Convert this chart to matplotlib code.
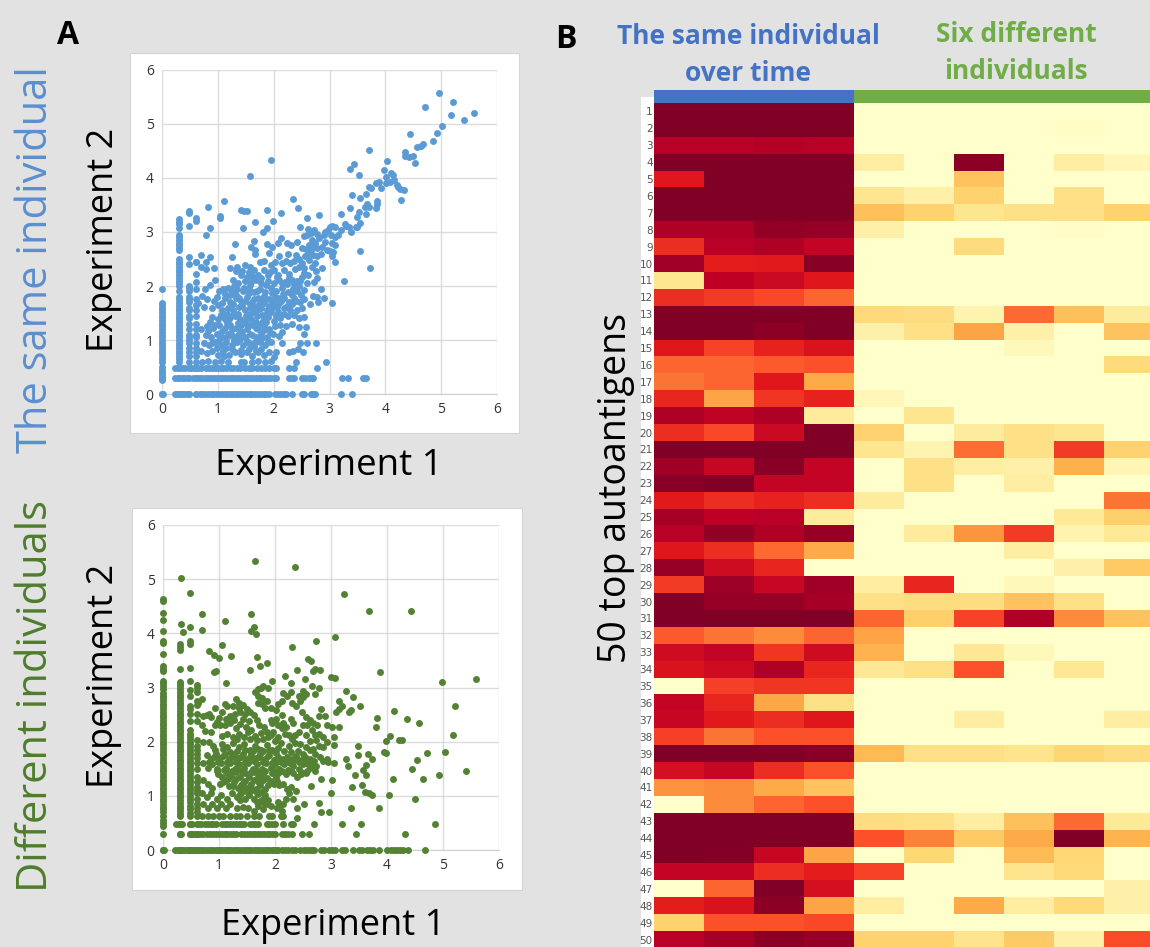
import numpy as np
import matplotlib
matplotlib.use('Agg')
import matplotlib.pyplot as plt
from matplotlib.patches import Rectangle

W, H = 1150, 947
plt.rcParams['font.family'] = ['Open Sans', 'DejaVu Sans']

# top scatter, same individual: columns and rows where the points pile up
same_x0_y = [0, 0.25, 0.29, 0.33, 0.37, 0.41, 0.45, 0.5, 0.6, 0.65, 0.7, 0.75, 0.8, 0.85, 0.9, 0.95, 1.0, 1.05, 1.1,
             1.15, 1.2, 1.25, 1.3, 1.35, 1.4, 1.45, 1.5, 1.55, 1.6, 1.65, 1.69, 1.94]
same_x30_y = [0, 0.3, 0.48, 0.6, 0.65, 0.7, 0.75, 0.8, 0.85, 0.9, 0.95, 1.0, 1.06, 1.1, 1.15, 1.2, 1.25, 1.3, 1.35,
              1.4, 1.45, 1.5, 1.55, 1.6, 1.65, 1.7, 1.75, 1.8, 1.9, 2.0, 2.05, 2.1, 2.15, 2.2, 2.25, 2.3, 2.35, 2.4,
              2.45, 2.5, 2.66, 2.7, 2.75, 2.8, 2.85, 2.9, 2.94, 3.08, 3.14, 3.19, 3.24]
same_x48_y = [0, 0.3, 0.48, 0.6, 0.7, 0.78, 0.85, 0.95, 1.0, 1.05, 1.1, 1.2, 1.3, 1.4, 1.45, 1.55, 1.6, 1.7, 1.75,
              1.8, 1.9, 1.97, 2.0, 2.4, 2.53, 3.12, 3.35, 3.38]
same_x60_y = [0, 0.3, 0.48, 0.6, 0.7, 0.78, 0.85, 0.95, 1.05, 1.1, 1.2, 1.3, 1.45, 1.55, 1.65, 1.75, 1.95, 2.07,
              2.22, 2.45, 3.2, 3.26]
same_y0_x = [0, 0.02, 0.23, 0.27, 0.31, 0.35, 0.4, 0.44, 0.48, 0.6, 0.68, 0.72, 0.77, 0.82, 0.87, 0.92, 0.97, 1.02,
             1.07, 1.12, 1.17, 1.22, 1.27, 1.32, 1.37, 1.42, 1.47, 1.52, 1.57, 1.62, 1.67, 1.72, 1.77, 1.82, 1.87,
             1.92, 2.03, 2.08, 2.13, 2.18, 2.22, 2.32, 2.5, 2.54, 2.66, 2.7, 2.74, 3.2, 3.4]
same_y30_x = [0.23, 0.28, 0.35, 0.4, 0.45, 0.55, 0.62, 0.68, 0.73, 0.78, 0.83, 0.88, 0.93, 0.98, 1.03, 1.08, 1.13,
              1.18, 1.23, 1.28, 1.33, 1.38, 1.43, 1.48, 1.53, 1.58, 1.63, 1.68, 1.73, 1.78, 1.83, 1.88, 1.93, 2.0,
              2.05, 2.27, 2.33, 2.37, 2.5, 2.56, 2.63, 2.68, 2.71, 3.22, 3.34, 3.6, 3.65]
same_y48_x = [0.23, 0.28, 0.36, 0.42, 0.52, 0.58, 0.65, 0.7, 0.78, 0.85, 0.9, 0.95, 1.0, 1.05, 1.1, 1.15, 1.22, 1.27,
              1.35, 1.4, 1.48, 1.55, 1.62, 1.7, 1.78, 1.85, 1.92, 2.0, 2.05, 2.28, 2.36, 2.77]

# top scatter, the rest of the points
same_other = [(4.97, 5.58), (5.22, 5.41), (4.71, 5.31), (5.59, 5.21), (5.18, 5.17), (5.41, 5.08), (5.02, 4.96),
              (4.93, 4.84), (4.45, 4.82), (4.85, 4.68), (4.68, 4.63), (4.64, 4.6), (4.57, 4.57), (4.35, 4.49),
              (3.71, 4.52), (4.5, 4.41), (4.36, 4.4), (4.42, 4.38), (4.53, 4.27), (4.03, 4.32), (1.95, 4.34),
              (3.43, 4.25), (3.37, 4.17), (3.98, 4.15), (3.52, 4.05), (1.57, 4.03), (4.11, 4.1), (4.13, 4.06),
              (4.02, 4.01), (4.16, 3.96), (4.08, 3.93), (4.02, 3.9), (3.93, 3.81), (3.84, 3.9), (3.88, 3.92),
              (3.7, 3.84), (3.74, 3.82), (4.2, 3.87), (4.23, 3.83), (4.33, 3.77), (4.28, 3.59), (4.26, 3.8),
              (1.11, 3.57), (0.82, 3.47), (2.35, 3.61), (2.43, 3.44), (1.41, 3.41), (1.47, 3.39), (1.52, 3.38),
              (1.88, 3.4), (2.13, 3.36), (1.04, 3.3), (1.03, 3.25), (1.66, 3.18), (1.98, 3.2), (2.6, 3.25),
              (2.81, 3.31), (3.21, 3.33), (0.86, 3.07), (0.78, 2.94), (1.45, 3.08), (1.88, 3.07), (1.8, 3.0),
              (2.47, 3.09), (1.31, 2.77), (1.65, 2.83), (1.6, 2.72), (1.67, 2.67), (1.66, 2.59), (1.88, 2.77),
              (1.97, 2.72), (1.92, 2.62), (2.07, 2.8), (2.13, 2.89), (2.23, 2.8), (2.31, 2.76), (2.41, 2.81),
              (2.09, 2.56), (2.26, 2.6), (0.7, 2.57), (0.86, 2.53), (1.25, 2.53), (0.6, 2.45), (0.79, 2.44),
              (0.7, 2.35), (0.78, 2.31), (0.94, 2.34), (1.21, 2.34), (0.95, 2.11), (0.86, 2.02), (0.77, 1.95),
              (2.62, 3.05), (2.72, 3.04), (2.77, 2.97), (2.92, 3.0), (3.0, 3.1), (3.05, 3.12), (3.1, 3.1),
              (3.2, 3.03), (3.27, 3.15), (3.3, 3.12), (3.35, 3.1), (3.39, 3.0), (3.47, 3.1), (3.55, 3.17),
              (3.5, 3.1), (3.5, 3.28), (3.52, 3.37), (3.37, 3.45), (3.41, 3.68), (3.55, 3.63), (3.65, 3.7),
              (3.63, 3.47), (3.68, 3.52), (3.7, 3.47), (3.66, 3.33), (3.83, 3.44), (3.85, 3.52), (3.85, 3.58),
              (3.55, 2.65), (3.72, 2.34), (3.26, 2.09), (3.05, 1.69), (2.9, 1.78), (3.1, 2.45), (3.05, 2.55),
              (3.0, 2.65), (3.07, 2.63), (2.95, 2.67), (2.85, 2.6), (2.9, 2.95), (3.05, 2.8), (3.1, 2.9),
              (3.15, 2.95), (3.1, 2.75), (3.03, 2.95), (2.87, 2.33), (2.55, 2.92), (2.6, 2.95), (2.66, 2.98),
              (2.5, 2.7), (2.58, 2.68), (2.66, 2.66), (2.72, 2.74), (2.78, 2.7), (2.56, 2.55), (2.62, 2.6),
              (2.7, 2.58), (2.77, 2.55), (2.45, 2.5), (2.37, 2.47), (2.3, 2.42), (2.22, 2.47), (2.15, 2.43),
              (2.02, 2.45), (1.95, 2.38), (1.83, 2.47), (1.75, 2.44), (1.58, 2.35), (1.48, 2.38), (1.35, 2.36),
              (1.32, 2.28), (1.42, 2.2), (1.55, 2.25), (1.65, 2.3), (1.72, 2.2), (1.82, 2.3), (1.9, 2.2),
              (2.0, 2.3), (2.08, 2.2), (2.18, 2.3), (2.28, 2.22), (2.38, 2.32), (2.46, 2.35), (2.55, 2.33),
              (2.68, 2.35), (2.75, 2.27), (2.62, 2.2), (2.5, 2.17), (2.42, 2.1), (2.33, 2.12), (2.2, 2.08),
              (2.1, 2.12), (2.0, 2.05), (1.9, 2.1), (1.78, 2.05), (1.68, 2.12), (1.58, 2.02), (1.48, 2.1),
              (1.37, 2.05), (1.28, 2.12), (1.18, 1.97), (1.1, 1.95), (1.02, 1.9), (1.25, 1.9), (1.35, 1.95),
              (1.45, 1.9), (1.55, 1.95), (1.65, 1.88), (1.75, 1.95), (1.85, 1.88), (1.95, 1.97), (2.05, 1.9),
              (2.15, 1.97), (2.25, 1.88), (2.35, 1.95), (2.45, 2.0), (2.55, 1.93), (2.72, 2.08), (2.77, 2.15),
              (2.85, 1.95), (2.7, 1.82), (2.78, 1.8), (2.8, 1.7), (2.65, 1.67), (2.55, 1.75), (2.47, 1.7),
              (2.37, 1.78), (2.28, 1.7), (2.18, 1.78), (2.1, 1.68), (2.03, 1.8), (1.92, 1.75), (1.83, 1.68),
              (1.72, 1.78), (1.62, 1.7), (1.52, 1.8), (1.42, 1.72), (1.32, 1.78), (1.22, 1.7), (1.12, 1.78),
              (1.0, 1.65), (0.9, 1.6), (0.8, 1.75), (0.72, 1.82), (0.75, 1.62), (0.65, 1.68), (1.08, 1.55),
              (1.18, 1.6), (1.28, 1.55), (1.38, 1.62), (1.48, 1.55), (1.58, 1.6), (1.68, 1.53), (1.78, 1.6),
              (1.88, 1.55), (1.98, 1.62), (2.08, 1.52), (2.18, 1.6), (2.3, 1.55), (2.42, 1.55), (2.45, 1.4),
              (2.55, 1.42), (2.26, 1.45), (2.12, 1.4), (2.0, 1.35), (1.9, 1.42), (1.8, 1.36), (1.7, 1.44),
              (1.6, 1.38), (1.5, 1.45), (1.4, 1.38), (1.3, 1.45), (1.2, 1.38), (1.1, 1.45), (1.0, 1.38),
              (0.9, 1.42), (0.8, 1.25), (0.92, 1.22), (1.02, 1.28), (1.12, 1.22), (1.22, 1.28), (1.32, 1.22),
              (1.42, 1.27), (1.52, 1.2), (1.62, 1.28), (1.72, 1.2), (1.82, 1.27), (1.92, 1.2), (2.02, 1.25),
              (2.12, 1.28), (2.22, 1.25), (2.32, 1.3), (2.46, 1.24), (2.58, 1.24), (2.54, 1.11), (2.1, 1.08),
              (2.15, 1.14), (1.98, 1.12), (1.88, 1.05), (1.78, 1.12), (1.68, 1.05), (1.58, 1.12), (1.48, 1.05),
              (1.38, 1.12), (1.28, 1.05), (1.18, 1.12), (1.08, 1.05), (0.98, 1.12), (0.88, 1.05), (0.78, 1.1),
              (0.7, 1.2), (0.75, 0.95), (0.85, 0.9), (0.95, 0.97), (1.05, 0.9), (1.15, 0.96), (1.25, 0.9),
              (1.35, 0.97), (1.45, 0.9), (1.55, 0.95), (1.65, 0.88), (1.75, 0.96), (1.85, 0.9), (1.95, 0.97),
              (2.15, 0.95), (2.47, 0.95), (2.6, 0.95), (2.75, 0.94), (2.43, 0.84), (2.35, 0.8), (2.27, 0.77),
              (2.52, 0.77), (0.7, 0.8), (0.8, 0.75), (0.9, 0.8), (1.0, 0.72), (1.1, 0.8), (1.2, 0.72), (1.3, 0.78),
              (1.42, 0.74), (1.52, 0.78), (1.62, 0.7), (1.72, 0.78), (1.82, 0.72), (1.92, 0.78), (2.05, 0.77),
              (2.4, 0.6), (2.94, 0.6), (0.72, 0.6), (0.82, 0.62), (0.95, 0.6), (1.05, 0.62), (1.18, 0.6),
              (1.42, 0.6), (1.47, 0.6), (1.62, 0.6), (1.72, 0.62), (1.85, 0.6), (1.95, 0.62), (2.0, 0.68)]

# top scatter, the thick middle of the cloud
same_dense = [(1.43, 1.63), (1.57, 1.48), (1.64, 1.76), (1.49, 1.31), (1.73, 1.57), (1.36, 1.49), (1.81, 1.73),
              (1.27, 1.66), (1.55, 1.87), (1.69, 1.33), (1.84, 1.47), (1.41, 1.17), (1.61, 1.09), (1.76, 1.29),
              (1.33, 1.84), (1.46, 1.96), (1.59, 2.08), (1.71, 1.91), (1.87, 2.02), (1.97, 1.87), (2.07, 1.77),
              (2.16, 1.86), (2.24, 2.03), (2.33, 1.83), (2.41, 1.91), (2.49, 1.83), (1.24, 1.44), (1.16, 1.31),
              (1.07, 1.17), (1.14, 1.03), (1.29, 0.98), (1.39, 1.01), (1.53, 0.99), (1.66, 0.97), (1.79, 1.03),
              (1.89, 0.96), (1.93, 1.14), (1.83, 1.19), (1.68, 1.22), (1.54, 1.27), (1.37, 1.31), (1.26, 1.2),
              (1.17, 1.49), (1.08, 1.68), (1.21, 1.83), (1.38, 1.77), (1.49, 1.72), (1.58, 1.66), (1.66, 1.61),
              (1.74, 1.67), (1.83, 1.81), (1.91, 1.63), (1.98, 1.71), (2.06, 1.62), (2.14, 1.72), (2.23, 1.63),
              (2.33, 1.66), (2.4, 1.72), (2.06, 2.17), (2.15, 2.06), (2.28, 2.14), (2.37, 2.03), (2.47, 2.09),
              (1.94, 2.26), (1.77, 2.14), (1.62, 2.18), (1.52, 2.16), (1.44, 2.28), (1.29, 2.0), (1.12, 1.86),
              (0.99, 1.79), (0.93, 1.72), (1.05, 1.47), (0.95, 1.27), (0.86, 1.34), (0.83, 1.16), (1.02, 1.0),
              (1.13, 1.38), (1.24, 1.11), (1.34, 1.08), (1.44, 1.14), (1.51, 1.37), (1.63, 1.51), (1.79, 1.46),
              (1.86, 1.33), (1.95, 1.52), (2.04, 1.44), (2.18, 1.49), (2.37, 1.46), (2.51, 1.6), (2.6, 2.05),
              (2.55, 2.24), (2.64, 2.48), (2.74, 2.42), (2.5, 2.43), (2.4, 2.58), (2.86, 2.73), (2.92, 2.82),
              (2.82, 2.88), (2.97, 3.03), (2.68, 2.85), (2.74, 2.8), (2.63, 2.75), (1.42, 0.82), (1.56, 0.84),
              (1.68, 0.79), (1.78, 0.83), (1.25, 0.83), (1.14, 0.86), (0.98, 0.85), (0.9, 0.94), (1.11, 0.71)]

# bottom scatter, different individuals
diff_x0_y = [0, 0.3, 0.45, 0.5, 0.56, 0.62, 0.7, 0.75, 0.8, 0.85, 0.9, 0.95, 1.0, 1.05, 1.1, 1.15, 1.2, 1.25, 1.3,
             1.35, 1.4, 1.45, 1.5, 1.55, 1.6, 1.65, 1.7, 1.75, 1.8, 1.85, 1.9, 1.95, 2.0, 2.05, 2.1, 2.15, 2.2, 2.25,
             2.3, 2.35, 2.4, 2.45, 2.5, 2.55, 2.6, 2.65, 2.7, 2.75, 2.8, 2.85, 2.9, 2.97, 3.03, 3.08, 3.12, 3.3, 3.35,
             3.4, 3.62, 3.83, 3.86, 4.05, 4.25, 4.38, 4.6, 4.64]
diff_x30_y = [0, 0.3, 0.48, 0.62, 0.67, 0.72, 0.77, 0.82, 0.87, 0.92, 0.97, 1.02, 1.07, 1.12, 1.17, 1.22, 1.27, 1.32,
              1.37, 1.42, 1.47, 1.52, 1.57, 1.62, 1.67, 1.72, 1.77, 1.82, 1.87, 1.92, 1.97, 2.02, 2.07, 2.12, 2.17,
              2.22, 2.27, 2.32, 2.37, 2.42, 2.47, 2.52, 2.57, 2.62, 2.67, 2.72, 2.77, 2.82, 2.87, 2.92, 2.97, 3.02,
              3.06, 3.1, 3.35, 3.7, 3.75, 3.81]
diff_x48_y = [0, 0.3, 0.48, 0.62, 0.68, 0.75, 0.82, 0.88, 0.95, 1.0, 1.05, 1.1, 1.15, 1.2, 1.25, 1.3, 1.35, 1.4, 1.45,
              1.5, 1.55, 1.6, 1.65, 1.7, 1.75, 1.8, 1.85, 1.9, 1.95, 2.0, 2.05, 2.1, 2.15, 2.22, 2.38, 2.52, 2.6, 2.65,
              2.85, 2.95, 3.12, 3.36]
diff_x60_y = [0, 0.3, 0.48, 0.62, 0.7, 0.78, 0.85, 0.95, 1.05, 1.1, 1.17, 1.25, 1.35, 1.5, 1.6, 1.7, 1.78, 1.85, 1.92,
              2.03, 2.38, 2.52, 2.68, 2.75, 2.92, 3.0, 3.05]
diff_y0_x = [0, 0.02, 0.22, 0.26, 0.3, 0.34, 0.38, 0.42, 0.46, 0.5, 0.54, 0.58, 0.62, 0.66, 0.7, 0.74, 0.78, 0.82, 0.86,
             0.9, 0.94, 0.98, 1.02, 1.06, 1.1, 1.14, 1.18, 1.22, 1.26, 1.3, 1.34, 1.38, 1.42, 1.46, 1.5, 1.54, 1.58, 1.62,
             1.66, 1.7, 1.74, 1.78, 1.82, 1.86, 1.9, 1.94, 1.98, 2.02, 2.06, 2.12, 2.18, 2.24, 2.3, 2.36, 2.44, 2.52, 2.58,
             2.62, 2.66, 2.7, 2.82, 2.88, 2.96, 3.02, 3.07, 3.2, 3.25, 3.4, 3.5, 3.55, 3.65, 3.7, 3.75, 3.85, 4.0, 4.07, 4.12,
             4.18, 4.24, 4.28, 4.37, 4.67]
diff_y30_x = [0.3, 0.33, 0.48, 0.52, 0.56, 0.6, 0.66, 0.72, 0.78, 0.84, 0.9, 0.95, 1.0, 1.05, 1.1, 1.15, 1.2, 1.25, 1.3,
              1.4, 1.45, 1.5, 1.55, 1.6, 1.65, 1.7, 1.75, 1.8, 1.85, 1.9, 1.95, 2.0, 2.12, 2.18, 2.24, 2.3]
diff_y48_x = [0.23, 0.28, 0.34, 0.48, 0.52, 0.62, 0.68, 0.75, 0.8, 0.85, 0.9, 0.95, 1.05, 1.1, 1.15, 1.2, 1.25, 1.3,
              1.35, 1.4, 1.45, 1.55, 1.6, 1.65, 1.7, 1.85, 1.9, 1.95, 2.0, 2.15, 2.28, 2.33]
diff_other = [(1.65, 5.33), (2.36, 5.22), (0.32, 5.02), (0.48, 4.75), (3.24, 4.72), (3.68, 4.41), (4.42, 4.42),
              (0.7, 4.35), (1.58, 4.36), (1.11, 4.23), (0.32, 4.17), (0.48, 4.11), (1.62, 4.11), (0.36, 4.02),
              (0.7, 4.06), (1.57, 4.04), (1.66, 3.98), (3.07, 3.94), (2.74, 3.85), (0.48, 3.85), (0.48, 3.81),
              (1.05, 3.79), (2.3, 3.75), (0.83, 3.68), (0.91, 3.6), (1.0, 3.54), (1.21, 3.59), (1.67, 3.56),
              (2.59, 3.52), (2.64, 3.49), (1.85, 3.46), (1.73, 3.39), (1.56, 3.32), (2.71, 3.35), (2.81, 3.33),
              (2.68, 3.3), (2.4, 3.33), (0.91, 3.28), (0.95, 3.3), (3.88, 3.28), (2.18, 3.22), (3.0, 3.2),
              (3.08, 3.18), (4.98, 3.1), (5.59, 3.15), (1.12, 3.09), (1.94, 3.12), (2.54, 3.15), (2.29, 3.08),
              (2.66, 3.03), (2.78, 3.0), (3.26, 2.93), (2.5, 2.93), (2.71, 2.88), (3.4, 2.82), (3.15, 2.75),
              (3.51, 2.66), (5.21, 2.66), (3.2, 2.65), (3.14, 2.61), (3.36, 2.58), (3.32, 2.55), (3.09, 2.55),
              (4.13, 2.56), (3.83, 2.44), (4.35, 2.42), (4.57, 2.35), (3.81, 2.28), (3.15, 2.28), (3.02, 2.27),
              (5.18, 2.12), (4.05, 2.1), (3.05, 2.09), (3.98, 2.02), (4.22, 2.03), (4.26, 2.03), (3.05, 1.94),
              (3.48, 1.92), (3.94, 1.81), (3.99, 1.79), (4.71, 1.8), (5.03, 1.81), (3.49, 1.76), (3.66, 1.78),
              (3.73, 1.68), (4.53, 1.67), (3.26, 1.68), (3.3, 1.56), (3.63, 1.57), (3.58, 1.48), (4.45, 1.49),
              (5.41, 1.46), (4.93, 1.39), (3.42, 1.38), (3.62, 1.39), (4.65, 1.31), (4.11, 1.31), (3.02, 1.3),
              (2.83, 1.31), (3.38, 1.17), (3.55, 1.2), (2.65, 1.19), (3.61, 1.07), (3.67, 1.05), (3.74, 1.01),
              (4.04, 1.01), (3.0, 1.05), (4.5, 0.94), (2.79, 0.86), (2.51, 0.85), (3.35, 0.78), (3.85, 0.78),
              (2.83, 0.7), (2.96, 0.7), (2.4, 0.6), (3.2, 0.48), (3.54, 0.48), (2.69, 0.48), (4.85, 0.48),
              (3.44, 0.3), (4.32, 0.3), (2.48, 0.3), (2.6, 0.3), (2.38, 1.09), (2.32, 0.95), (2.25, 1.05),
              (2.4, 0.78), (2.15, 0.85), (2.08, 0.8), (2.12, 0.72), (2.03, 0.78), (2.1, 0.62), (2.14, 0.62),
              (1.9, 0.62), (1.95, 0.62), (1.7, 2.97), (1.75, 3.0), (1.78, 3.02), (1.88, 3.0), (1.65, 2.92),
              (1.7, 2.85), (1.77, 2.8), (1.85, 2.75), (1.7, 2.72), (1.76, 2.7), (1.82, 2.63), (1.92, 2.62),
              (2.02, 2.58), (2.05, 2.7), (2.12, 2.75), (2.15, 2.9), (2.22, 2.85), (2.28, 2.92), (2.42, 2.85),
              (2.45, 2.75), (2.38, 2.65), (2.3, 2.72), (2.5, 2.82), (2.55, 2.88), (2.48, 2.55), (2.55, 2.45),
              (2.63, 2.4), (2.58, 2.3), (2.66, 2.22), (2.75, 2.3), (2.78, 2.15), (2.85, 2.08), (2.73, 2.03),
              (2.62, 1.85), (2.85, 1.9), (2.92, 2.3), (2.9, 2.48), (2.83, 2.6), (2.78, 2.48), (2.92, 2.0),
              (1.3, 2.78), (1.36, 2.72), (1.43, 2.68), (1.5, 2.6), (1.55, 2.55), (1.25, 2.65), (1.1, 2.7),
              (1.15, 2.65), (1.05, 2.55), (1.2, 2.48), (1.28, 2.52), (1.38, 2.55), (1.62, 2.5), (1.67, 2.4),
              (0.92, 2.63), (0.78, 2.5), (0.72, 2.47), (0.82, 2.52), (0.85, 2.45), (0.7, 2.78), (0.62, 2.72),
              (0.7, 2.3), (0.75, 2.2), (0.85, 2.18), (0.93, 2.3), (0.97, 2.37), (1.02, 2.3), (1.1, 2.3),
              (1.2, 2.35), (1.3, 2.25), (1.38, 2.32), (1.48, 2.28), (1.58, 2.22), (1.72, 2.3), (1.8, 2.28),
              (1.85, 2.17), (1.95, 2.35), (2.05, 2.3), (2.12, 2.25), (2.2, 2.28), (2.25, 2.12), (2.35, 2.13),
              (2.42, 2.18), (2.55, 2.12), (1.05, 2.1), (1.15, 2.15), (1.25, 2.08), (1.35, 2.15), (1.45, 2.08),
              (1.55, 2.05), (1.65, 2.1), (1.78, 2.05), (1.92, 2.12), (2.0, 2.02), (2.1, 1.97), (2.25, 1.92),
              (2.35, 1.97), (2.45, 1.95), (2.55, 1.9), (0.72, 2.0), (0.82, 2.0), (0.9, 1.92), (1.05, 1.95),
              (1.15, 1.9), (1.25, 1.98), (1.35, 1.9), (1.45, 1.95), (1.55, 1.85), (1.65, 1.92), (1.75, 1.85),
              (1.85, 1.93), (1.95, 1.85), (2.05, 1.88), (0.78, 1.75), (0.86, 1.68), (0.94, 1.77), (1.02, 1.7),
              (1.1, 1.78), (1.18, 1.68), (1.26, 1.77), (1.34, 1.7), (1.42, 1.78), (1.5, 1.68), (1.58, 1.77),
              (1.66, 1.7), (1.74, 1.78), (1.82, 1.68), (1.9, 1.76), (1.98, 1.66), (2.06, 1.72), (2.14, 1.68),
              (2.22, 1.72), (2.3, 1.68), (2.38, 1.73), (2.46, 1.67), (2.54, 1.72), (2.62, 1.68), (2.7, 1.65),
              (2.85, 1.65), (2.95, 1.62), (3.05, 1.61), (0.72, 1.6), (0.8, 1.52), (0.88, 1.58), (0.96, 1.5),
              (1.04, 1.6), (1.12, 1.52), (1.2, 1.6), (1.28, 1.5), (1.36, 1.58), (1.44, 1.52), (1.52, 1.6),
              (1.6, 1.5), (1.68, 1.58), (1.76, 1.5), (1.84, 1.6), (1.92, 1.52), (2.0, 1.58), (2.08, 1.5),
              (2.16, 1.58), (2.24, 1.48), (2.32, 1.55), (2.42, 1.5), (2.5, 1.58), (2.58, 1.46), (2.66, 1.55),
              (2.74, 1.56), (0.98, 1.4), (1.06, 1.35), (1.14, 1.42), (1.22, 1.36), (1.3, 1.44), (1.38, 1.34),
              (1.46, 1.42), (1.54, 1.35), (1.62, 1.44), (1.7, 1.34), (1.78, 1.4), (1.86, 1.33), (1.94, 1.42),
              (2.02, 1.35), (2.2, 1.4), (2.32, 1.42), (2.4, 1.35), (0.72, 1.3), (0.8, 1.22), (0.88, 1.15),
              (1.02, 1.22), (1.1, 1.28), (1.18, 1.18), (1.26, 1.26), (1.34, 1.15), (1.42, 1.24), (1.5, 1.14),
              (1.58, 1.22), (1.66, 1.12), (1.74, 1.2), (1.82, 1.12), (2.08, 1.2), (2.15, 1.22), (2.22, 1.12),
              (2.28, 1.17), (0.7, 1.05), (0.78, 0.98), (0.86, 1.05), (0.96, 0.95), (1.04, 1.02), (1.14, 0.95),
              (1.24, 1.05), (1.32, 0.98), (1.4, 1.05), (1.46, 0.95), (1.54, 1.02), (1.62, 0.95), (1.7, 1.03),
              (1.78, 0.95), (2.05, 0.88), (2.2, 0.95), (0.72, 0.85), (0.8, 0.78), (0.88, 0.85), (0.96, 0.78),
              (1.04, 0.85), (1.12, 0.78), (1.2, 0.85), (1.32, 0.78), (1.42, 0.8), (1.52, 0.78), (1.62, 0.72),
              (1.7, 0.82), (1.78, 0.75), (1.86, 0.85), (1.92, 0.82), (0.7, 0.62), (0.8, 0.62), (0.9, 0.62),
              (1.0, 0.62), (1.08, 0.62), (1.2, 0.62), (1.3, 0.62), (1.38, 0.62), (1.5, 0.62), (1.62, 0.62),
              (1.72, 0.62)]

# bottom scatter, the thick band around y 1.6 and the arcs above it
diff_dense = [(0.83, 1.62), (0.91, 1.71), (0.98, 1.62), (1.07, 1.73), (1.15, 1.63), (1.23, 1.72), (1.31, 1.62),
              (1.39, 1.71), (1.47, 1.63), (1.55, 1.72), (1.63, 1.64), (1.71, 1.71), (1.79, 1.62), (1.87, 1.73),
              (1.95, 1.61), (2.03, 1.68), (2.11, 1.62), (2.19, 1.66), (2.27, 1.61), (2.35, 1.66), (2.43, 1.62),
              (2.51, 1.64), (2.59, 1.59), (0.93, 1.84), (1.08, 1.86), (1.2, 1.81), (1.33, 1.83), (1.47, 1.84),
              (1.6, 1.82), (1.69, 1.86), (1.79, 1.82), (1.9, 1.85), (2.01, 1.79), (2.16, 1.83), (2.29, 1.81),
              (2.41, 1.82), (2.5, 1.78), (0.97, 1.46), (1.09, 1.47), (1.24, 1.45), (1.33, 1.52), (1.41, 1.46),
              (1.57, 1.44), (1.66, 1.48), (1.73, 1.43), (1.82, 1.46), (1.97, 1.47), (2.05, 1.43), (2.13, 1.46),
              (2.28, 1.45), (2.46, 1.44), (1.08, 1.25), (1.16, 1.31), (1.25, 1.18), (1.31, 1.32), (1.39, 1.2),
              (1.47, 1.28), (1.55, 1.18), (1.63, 1.3), (1.71, 1.24), (1.79, 1.29), (1.87, 1.2), (1.92, 1.28),
              (1.98, 1.22), (2.04, 1.28), (1.37, 1.04), (1.44, 1.1), (1.51, 1.05), (1.59, 1.1), (1.67, 1.05),
              (1.75, 1.08), (1.83, 1.02), (1.38, 0.92), (1.68, 0.88), (1.74, 0.9), (1.8, 0.86), (1.88, 0.92),
              (1.33, 2.05), (1.52, 2.18), (1.68, 2.03), (1.75, 2.16), (1.87, 2.08), (1.97, 2.18), (2.06, 2.08),
              (2.17, 2.15), (2.3, 2.05), (1.43, 2.42), (1.54, 2.38), (1.26, 2.4), (1.12, 2.42), (1.0, 2.44),
              (1.92, 2.4), (2.02, 2.42), (2.14, 2.35), (2.28, 2.42), (2.12, 2.5), (1.35, 2.62), (1.47, 2.52),
              (2.33, 2.35), (2.5, 2.3), (2.68, 2.35), (2.72, 2.12), (2.63, 2.02), (2.78, 1.92), (2.68, 1.86),
              (2.72, 1.78), (2.8, 1.72), (2.92, 1.68), (2.62, 1.52), (2.55, 1.42), (2.47, 1.4), (2.72, 1.45)]

# heatmap: 50 autoantigens, first 4 columns same individual, last 6 different individuals
heat_values = [
    [1, 1, 1, 1, 0, 0, 0, 0, 0, 0],
    [1, 1, 1, 1, 0, 0, 0, 0, 0.02, 0],
    [0.88, 0.88, 0.89, 0.88, 0, 0, 0, 0, 0, 0],
    [1, 1, 1, 1, 0.12, 0, 0.97, 0, 0.12, 0.06],
    [0.76, 1, 1, 1, 0, 0, 0.32, 0, 0, 0],
    [1, 1, 1, 1, 0.17, 0.1, 0.27, 0, 0.2, 0],
    [1, 1, 1, 1, 0.33, 0.27, 0.17, 0.2, 0.2, 0.27],
    [0.9, 0.9, 0.96, 0.95, 0.1, 0, 0, 0, 0.02, 0],
    [0.7, 0.88, 0.9, 0.85, 0, 0, 0.23, 0, 0, 0],
    [0.93, 0.74, 0.75, 0.98, 0, 0, 0, 0, 0, 0],
    [0.17, 0.87, 0.83, 0.76, 0, 0, 0, 0, 0, 0],
    [0.7, 0.67, 0.64, 0.58, 0, 0, 0, 0, 0, 0],
    [1, 1, 1, 1, 0.24, 0.22, 0.08, 0.57, 0.33, 0.13],
    [1, 1, 0.97, 1, 0.1, 0.2, 0.42, 0.1, 0, 0.32],
    [0.76, 0.65, 0.73, 0.78, 0, 0, 0, 0.05, 0, 0],
    [0.58, 0.58, 0.6, 0.62, 0, 0, 0, 0, 0, 0.23],
    [0.55, 0.58, 0.76, 0.4, 0, 0, 0, 0, 0, 0],
    [0.72, 0.42, 0.68, 0.73, 0.06, 0, 0, 0, 0, 0],
    [0.9, 0.86, 0.9, 0.14, 0, 0.17, 0, 0, 0, 0],
    [0.7, 0.64, 0.83, 1, 0.27, 0, 0.13, 0.2, 0.17, 0],
    [1, 1, 1, 1, 0.17, 0.08, 0.56, 0.2, 0.67, 0.27],
    [0.93, 0.84, 0.98, 0.85, 0, 0.2, 0.12, 0.1, 0.38, 0.07],
    [0.98, 1, 0.85, 0.85, 0, 0.2, 0, 0.12, 0, 0],
    [0.75, 0.7, 0.73, 0.7, 0.13, 0, 0, 0, 0, 0.55],
    [0.92, 0.87, 0.88, 0.13, 0, 0, 0, 0, 0.15, 0.28],
    [0.88, 0.96, 0.9, 0.95, 0, 0.14, 0.47, 0.67, 0.08, 0.15],
    [0.76, 0.7, 0.57, 0.4, 0, 0, 0, 0.12, 0, 0],
    [0.95, 0.82, 0.72, 0, 0, 0, 0, 0, 0.1, 0.3],
    [0.67, 0.94, 0.84, 0.93, 0.12, 0.72, 0, 0.05, 0, 0],
    [1, 0.95, 0.95, 0.92, 0.2, 0.22, 0.22, 0.32, 0.2, 0],
    [1, 1, 1, 1, 0.58, 0.28, 0.65, 0.9, 0.5, 0.32],
    [0.6, 0.55, 0.5, 0.58, 0.42, 0, 0, 0, 0, 0],
    [0.82, 0.85, 0.68, 0.82, 0.37, 0, 0.16, 0.05, 0, 0],
    [0.78, 0.82, 0.9, 0.72, 0.16, 0.2, 0.62, 0, 0.16, 0],
    [0, 0.66, 0.68, 0.68, 0, 0, 0, 0, 0, 0],
    [0.85, 0.72, 0.41, 0.2, 0, 0, 0, 0, 0, 0],
    [0.84, 0.75, 0.7, 0.76, 0, 0, 0.12, 0, 0, 0.12],
    [0.66, 0.55, 0.62, 0.62, 0, 0, 0, 0, 0, 0],
    [1, 1, 1, 0.98, 0.35, 0.2, 0.2, 0.18, 0.26, 0.22],
    [0.8, 0.84, 0.7, 0.62, 0, 0, 0, 0, 0, 0],
    [0.48, 0.5, 0.4, 0.32, 0, 0, 0, 0, 0, 0],
    [0, 0.5, 0.58, 0.62, 0, 0, 0, 0, 0, 0],
    [1, 1, 1, 1, 0.22, 0.2, 0.12, 0.33, 0.57, 0.15],
    [1, 1, 1, 1, 0.62, 0.52, 0.3, 0.4, 1, 0.37],
    [1, 0.99, 0.84, 0.42, 0, 0.25, 0, 0.35, 0.25, 0],
    [0.85, 0.85, 0.7, 0.74, 0.65, 0, 0, 0.18, 0.24, 0],
    [0, 0.58, 1, 0.8, 0, 0, 0, 0, 0, 0.1],
    [0.74, 0.78, 0.97, 0.42, 0.12, 0, 0.4, 0.12, 0.24, 0.1],
    [0.27, 0.62, 0.62, 0.64, 0, 0, 0, 0, 0, 0],
    [0.88, 0.92, 0.97, 0.95, 0.27, 0.27, 0.18, 0.3, 0.1, 0.63],
]
row_labels = [str(i) for i in range(1, 51)]
ticks = [0, 1, 2, 3, 4, 5, 6]


def px_axes(left, top, right, bottom):
    return fig.add_axes([left / W, 1 - bottom / H, (right - left) / W, (bottom - top) / H])


def px_box(left, top, right, bottom, **kw):
    # zorder below the axes, or the boxes hide everything drawn in them
    fig.add_artist(Rectangle((left / W, 1 - bottom / H), (right - left) / W, (bottom - top) / H,
                             transform=fig.transFigure, zorder=-1, **kw))


def px_text(x, y, s, **kw):
    fig.text(x / W, 1 - y / H, s, ha='center', va='center', **kw)


def scatter_panel(pos, x0_y, x30_y, x48_y, x60_y, y0_x, y30_x, y48_x, other, color):
    ax = px_axes(*pos)
    ax.patch.set_visible(False)
    x = [0.0] * len(x0_y) + [0.3] * len(x30_y) + [0.48] * len(x48_y) + [0.6] * len(x60_y)
    y = list(x0_y) + list(x30_y) + list(x48_y) + list(x60_y)
    x += list(y0_x) + list(y30_x) + list(y48_x)
    y += [0.0] * len(y0_x) + [0.3] * len(y30_x) + [0.48] * len(y48_x)
    x += [p[0] for p in other]
    y += [p[1] for p in other]
    ax.scatter(x, y, s=25, color=color, linewidths=0, clip_on=False, zorder=3)
    ax.set_xlim(0, 6)
    ax.set_ylim(0, 6)
    ax.set_xticks(ticks)
    ax.set_yticks(ticks)
    ax.grid(color='#dcdcdc', linewidth=1)
    ax.set_axisbelow(True)
    ax.tick_params(length=0, labelsize=10, labelcolor='#333333', pad=6)
    for s in ax.spines.values():
        s.set_visible(False)
    ax.spines['left'].set_visible(True)
    ax.spines['left'].set_color('#dcdcdc')
    ax.spines['bottom'].set_visible(True)
    ax.spines['bottom'].set_color('#d0d0d0')
    return ax


fig = plt.figure(figsize=(W / 100, H / 100), dpi=100, facecolor='#e2e2e2')

px_box(130, 53, 519, 433, facecolor='white', edgecolor='#d4d4d4', linewidth=0.8)
px_box(132, 508, 522, 890, facecolor='white', edgecolor='#d4d4d4', linewidth=0.8)
scatter_panel((162, 70, 497, 394), same_x0_y, same_x30_y, same_x48_y, same_x60_y,
              same_y0_x, same_y30_x, same_y48_x, same_other + same_dense, '#5b9bd5')
scatter_panel((163, 525, 499, 850), diff_x0_y, diff_x30_y, diff_x48_y, diff_x60_y,
              diff_y0_x, diff_y30_x, diff_y48_x, diff_other + diff_dense, '#548235')

# heatmap, the last column runs off the right edge like in the figure
px_box(641, 97, 654, 947, facecolor='white', edgecolor='none')
ax = px_axes(654, 103, 1154, 948)
ax.imshow(np.array(heat_values), cmap='YlOrRd', vmin=0, vmax=1, aspect='auto', interpolation='nearest')
ax.set_xticks([])
ax.set_yticks(np.arange(50))
ax.set_yticklabels(row_labels, fontsize=7.5, color='#555555', family=['Liberation Sans Narrow', 'DejaVu Sans'])
ax.tick_params(length=0, pad=1)
for s in ax.spines.values():
    s.set_visible(False)

px_box(654, 90, 854, 103, facecolor='#4472c4', edgecolor='none')
px_box(854, 90, 1150, 105, facecolor='#70ad47', edgecolor='none')

px_text(36, 260, 'The same individual', rotation=90, fontsize=30, color='#5b8fd0')
px_text(36, 696, 'Different individuals', rotation=90, fontsize=30, color='#4e7d2c')
px_text(104, 240, 'Experiment 2', rotation=90, fontsize=26, color='black')
px_text(104, 676, 'Experiment 2', rotation=90, fontsize=26, color='black')
px_text(329, 466, 'Experiment 1', fontsize=26.5, color='black')
px_text(333, 926, 'Experiment 1', fontsize=26, color='black')
px_text(616, 488, '50 top autoantigens', rotation=90, fontsize=27, color='black')
px_text(68, 36, 'A', fontsize=23, fontweight='bold', color='black')
px_text(566, 40, 'B', fontsize=23, fontweight='bold', color='black')
px_text(748, 55, 'The same individual\nover time', fontsize=19, fontweight='bold', color='#4472c4', linespacing=1.5)
px_text(1016, 53, 'Six different\nindividuals', fontsize=19, fontweight='bold', color='#70ad47', linespacing=1.5)

fig.savefig('out.png', dpi=100, facecolor=fig.get_facecolor())
